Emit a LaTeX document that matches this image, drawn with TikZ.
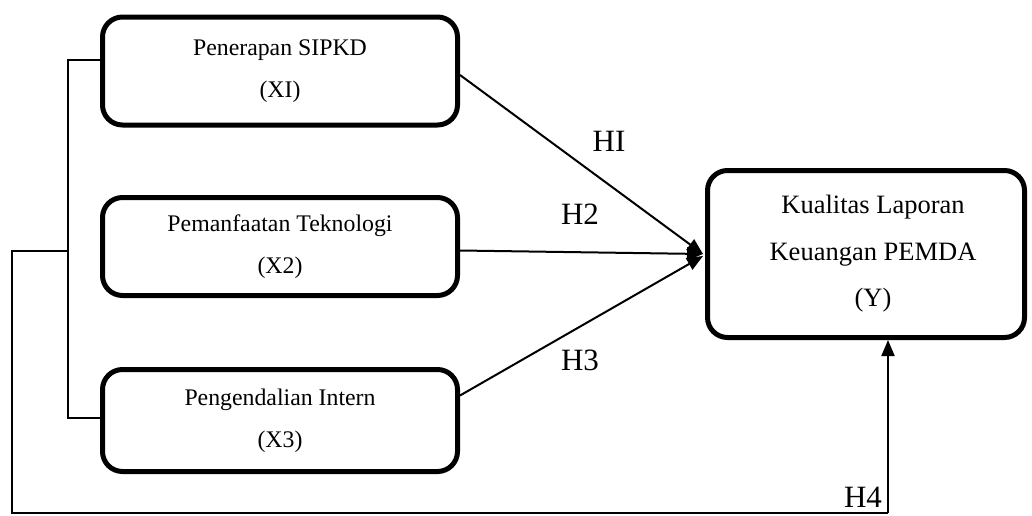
\documentclass[tikz,border=0pt]{standalone}
\usepackage{fontspec}
\setmainfont{Liberation Serif}
\usetikzlibrary{arrows.meta,calc}
\begin{document}
\begin{tikzpicture}[x=1pt,y=-1pt,
  varbox/.style={draw,line width=5pt,rounded corners=20pt,align=center,inner sep=0pt},
  smalltext/.style={font=\fontsize{23.8}{42}\selectfont},
  bigtext/.style={font=\fontsize{26.5}{46.5}\selectfont},
  hlabel/.style={font=\fontsize{31}{31}\selectfont,inner sep=0pt},
  conn/.style={line width=1.3pt},
  arr/.style={line width=2pt,-{Triangle[length=16pt,width=13pt]}}]
\useasboundingbox (0,0) rectangle (1032,515);
\clip (0,0) rectangle (1032,515);
\node[varbox,smalltext,minimum width=355pt,minimum height=108pt] (b1) at (280,71) {Penerapan SIPKD\\(XI)};
\node[varbox,smalltext,minimum width=355pt,minimum height=98pt] (b2) at (280,246.5) {\rule[-3pt]{0pt}{0pt}Pemanfaatan Teknologi\\(X2)};
\node[varbox,smalltext,minimum width=355pt,minimum height=102pt] (b3) at (280,420.5) {Pengendalian Intern\\(X3)};
\node[varbox,bigtext,minimum width=317pt,minimum height=167pt] (Y) at (866,254) {\hspace*{14pt}Kualitas Laporan\\\hspace*{14pt}Keuangan PEMDA\\\hspace*{14pt}(Y)};
\coordinate (j1) at (68,60);
\coordinate (j2) at (68,251);
\coordinate (j3) at (68,418);
\coordinate (k1) at (12,251);
\coordinate (k2) at (12,513);
\coordinate (k3) at (888,513);
\draw[conn] (j1 -| b1.west) -- (j1) -- (j3) -- (j3 -| b3.west);
\draw[conn] (j2) -- (k1) -- (k2) -- (k3);
\draw[arr] (k3) -- (k3 |- Y.south);
\draw[arr] ($(b1.east)+(0,4)$) -- ($(Y.west)+(-2,0)$);
\draw[arr] ($(b2.east)+(0,4)$) -- ($(Y.west)+(-2,0)$);
\draw[arr] ($(b3.east)+(0,-25)$) -- ($(Y.west)+(-2,2)$);
\node[hlabel] (h1) at (609,141) {HI};
\node[hlabel] (h2) at (580,214) {H2};
\node[hlabel] (h3) at (580,360) {H3};
\node[hlabel,anchor=base] (h4) at (863,507) {H4};
\end{tikzpicture}
\end{document}
